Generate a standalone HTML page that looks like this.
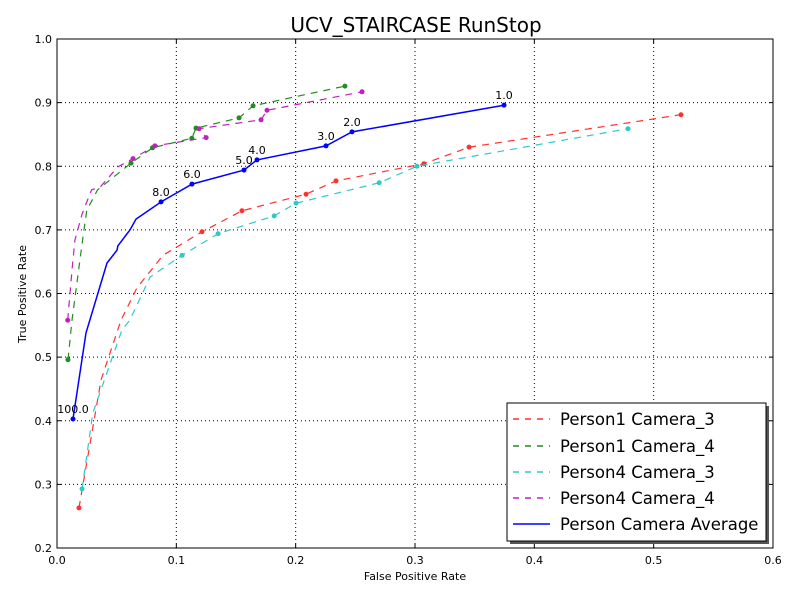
<!DOCTYPE html>
<html><head><meta charset="utf-8"><style>
body{margin:0;background:#fff;}
svg{display:block;font-family:"DejaVu Sans","Liberation Sans",sans-serif;}
</style></head><body>
<svg id="c" width="800" height="600"></svg>
<script>
const xTicks=[0.0,0.1,0.2,0.3,0.4,0.5,0.6];
const yTicks=[0.2,0.3,0.4,0.5,0.6,0.7,0.8,0.9,1.0];
const seriesNames=["Person1 Camera_3","Person1 Camera_4","Person4 Camera_3","Person4 Camera_4","Person Camera Average"];
const seriesColors=["#ff3030","#228b22","#30c8c8","#c020c0","#0000ff"];
// points: [fpr, tpr, hasMarker]
const p1c3=[[0.0184,0.263,1],[0.0369,0.464,0],[0.0536,0.558,0],[0.067,0.609,0],[0.0888,0.66,0],[0.1215,0.697,1],[0.155,0.73,1],[0.2087,0.756,1],[0.2338,0.777,1],[0.3075,0.804,1],[0.3453,0.83,1],[0.5229,0.881,1]];
const p1c4=[[0.0092,0.496,1],[0.0126,0.558,0],[0.0218,0.689,0],[0.025,0.731,0],[0.034,0.763,0],[0.062,0.805,1],[0.08,0.829,1],[0.113,0.844,1],[0.1165,0.86,1],[0.1525,0.876,1],[0.1643,0.895,1],[0.2413,0.926,1]];
const p4c3=[[0.021,0.293,1],[0.03,0.412,0],[0.0545,0.543,0],[0.061,0.558,0],[0.078,0.626,0],[0.1048,0.66,1],[0.135,0.694,1],[0.182,0.722,1],[0.2003,0.742,1],[0.27,0.774,1],[0.3017,0.8,1],[0.4785,0.859,1]];
const p4c4=[[0.009,0.558,1],[0.0126,0.637,0],[0.015,0.684,0],[0.021,0.725,0],[0.029,0.763,0],[0.036,0.767,0],[0.051,0.799,0],[0.0637,0.812,1],[0.082,0.832,1],[0.125,0.845,1],[0.119,0.859,1],[0.171,0.873,1],[0.176,0.888,1],[0.2556,0.917,1]];
const avg=[[0.0134,0.4028,1],[0.0243,0.538,0],[0.0419,0.648,0],[0.0503,0.668,0],[0.051,0.675,0],[0.0612,0.7,0],[0.0662,0.717,0],[0.0872,0.744,1],[0.1131,0.772,1],[0.1567,0.794,1],[0.1676,0.81,1],[0.2254,0.832,1],[0.2472,0.854,1],[0.3746,0.896,1]];
const avgLabels=["100.0","","","","","","","8.0","6.0","5.0","4.0","3.0","2.0","1.0"];
const L=57,R=773,T=39,B=548;
const sx=v=>L+(v-0)/(0.6)*(R-L);
const sy=v=>B-(v-0.2)/(0.8)*(B-T);
const svg=document.getElementById('c');
const NS="http://www.w3.org/2000/svg";
function mk(tag,attrs,parent){const e=document.createElementNS(NS,tag);for(const k in attrs)e.setAttribute(k,attrs[k]);(parent||svg).appendChild(e);return e;}
function txt(s,x,y,size,anchor,name){const t=mk('text',{x:x,y:y,'font-size':size,'text-anchor':anchor||'middle',fill:'#000'});t.textContent=s;


return t;}
xTicks.forEach(v=>{const x=sx(v);
 if(v>0&&v<0.6){const g=mk('line',{x1:x,x2:x,y1:T,y2:B,stroke:'#000','stroke-dasharray':'1,3','stroke-width':1});
 
 }
 mk('line',{x1:x,x2:x,y1:B,y2:B-4,stroke:'#000'});mk('line',{x1:x,x2:x,y1:T,y2:T+4,stroke:'#000'});
 txt(v.toFixed(1),x,B+16,11,'middle','x-tick-label');});
yTicks.forEach(v=>{const y=sy(v);
 if(v>0.2&&v<1.0){const g=mk('line',{x1:L,x2:R,y1:y,y2:y,stroke:'#000','stroke-dasharray':'1,3','stroke-width':1});
 
 }
 mk('line',{x1:L,x2:L+4,y1:y,y2:y,stroke:'#000'});mk('line',{x1:R,x2:R-4,y1:y,y2:y,stroke:'#000'});
 txt(v.toFixed(1),L-5,y+4,11,'end','y-tick-label');});
const frame=mk('rect',{x:L,y:T,width:R-L,height:B-T,fill:'none',stroke:'#000','stroke-width':1});


const all=[p1c3,p1c4,p4c3,p4c4,avg];
all.forEach((d,i)=>{
 const pts=d.map(p=>sx(p[0]).toFixed(1)+','+sy(p[1]).toFixed(1)).join(' ');
 const pl=mk('polyline',{points:pts,fill:'none',stroke:seriesColors[i],'stroke-width':i==4?1.5:1.2,'stroke-dasharray':i==4?'none':'7,6'});
 
 
 d.forEach(p=>{if(p[2]){const c=mk('circle',{cx:sx(p[0]),cy:sy(p[1]),r:2.5,fill:seriesColors[i]});
 
 }});
});
avg.forEach((p,i)=>{if(avgLabels[i])txt(avgLabels[i],sx(p[0]),sy(p[1])-6,11,'middle','threshold-label');});
txt("UCV_STAIRCASE RunStop",416,32,20,'middle','chart-title');
txt("False Positive Rate",415,580,11,'middle','x-axis-title');
const yt=txt("True Positive Rate",0,0,11,'middle','y-axis-title');yt.setAttribute('transform','translate(26,294) rotate(-90)');
const lg=mk('g',{});


mk('rect',{x:510,y:406,width:259,height:138,fill:'#555'},lg);
mk('rect',{x:507,y:403,width:259,height:138,fill:'#fff',stroke:'#000'},lg);
const ly=[419,446,472,498,524];
seriesNames.forEach((n,i)=>{
 const l=mk('line',{x1:513,x2:550,y1:ly[i],y2:ly[i],stroke:seriesColors[i],'stroke-width':1.5,'stroke-dasharray':i==4?'none':'6,6'},lg);
 
 
 const t=txt(n,560,ly[i]+6,16.5,'start','legend-entry');lg.appendChild(t);
});
</script>
</body></html>
